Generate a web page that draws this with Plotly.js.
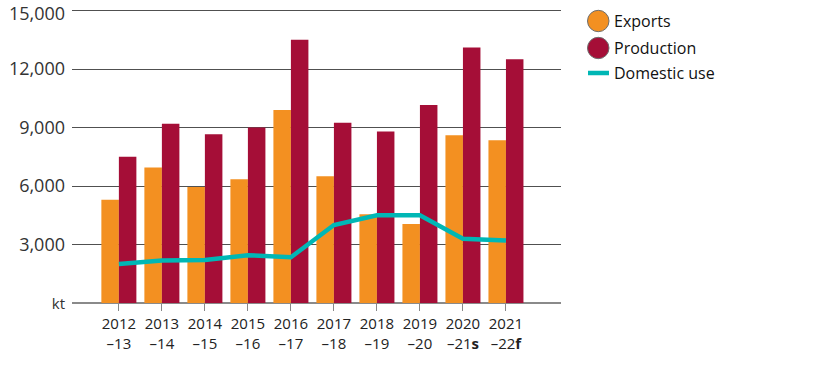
<!DOCTYPE html>
<html>
<head>
<meta charset="utf-8">
<script src="https://cdn.plot.ly/plotly-3.0.1.min.js"></script>
<style>html,body{margin:0;padding:0;background:#fff;}#chart{width:816px;height:376px;}</style>
</head>
<body>
<div id="chart"></div>
<script>
// ---- data ----
var categories = ["2012–13","2013–14","2014–15","2015–16","2016–17","2017–18","2018–19","2019–20","2020–21s","2021–22f"];
var tickLabels = ["2012<br>–13","2013<br>–14","2014<br>–15","2015<br>–16","2016<br>–17","2017<br>–18","2018<br>–19","2019<br>–20","2020<br>–21<b>s</b>","2021<br>–22<b>f</b>"];
var exportsVals = [5300, 6950, 5950, 6350, 9900, 6500, 4550, 4050, 8600, 8350];
var productionVals = [7500, 9200, 8650, 9000, 13500, 9250, 8800, 10150, 13100, 12500];
var domesticVals = [2000, 2180, 2200, 2450, 2350, 4000, 4500, 4500, 3300, 3200];
var seriesNames = ["Exports", "Production", "Domestic use"];
var yTickVals = [0, 3000, 6000, 9000, 12000, 15000];
var yTickText = ["<span style='font-size:15px'>kt</span>", "3,000", "6,000", "9,000", "12,000", ""];
var yTopLabel = "15,000";

// ---- style ----
var ORANGE = "#F39021", CRIMSON = "#A50E37", TEAL = "#00B7B5";
var W = 816, H = 376, ML = 72, MR = 255, MT = 9, MB = 73;
var PW = W - ML - MR, PH = H - MT - MB;
function px(x){ return (x - ML) / PW; }
function py(y){ return (H - MB - y) / PH; }

var traces = [
  {type:"bar", name:seriesNames[0], x:categories, y:exportsVals, marker:{color:ORANGE}, showlegend:false, hoverinfo:"y"},
  {type:"bar", name:seriesNames[1], x:categories, y:productionVals, marker:{color:CRIMSON}, showlegend:false, hoverinfo:"y"},
  {type:"scatter", mode:"lines", name:seriesNames[2], x:categories, y:domesticVals, line:{color:TEAL, width:4.5}, showlegend:false, hoverinfo:"y"}
];

var font = "'Open Sans', 'Noto Sans', sans-serif";
var legendY = [21, 48, 73];
var shapes = [
  {type:"circle", xref:"paper", yref:"paper", x0:px(587.5), x1:px(609), y0:py(legendY[0]+10.7), y1:py(legendY[0]-10.7), fillcolor:ORANGE, line:{color:"#6e6e6e", width:1}},
  {type:"circle", xref:"paper", yref:"paper", x0:px(587.5), x1:px(609), y0:py(legendY[1]+10.7), y1:py(legendY[1]-10.7), fillcolor:CRIMSON, line:{color:"#6e6e6e", width:1}},
  {type:"line", xref:"paper", yref:"paper", x0:px(588), x1:px(609), y0:py(legendY[2]), y1:py(legendY[2]), line:{color:TEAL, width:4.5}}
];
var annotations = seriesNames.map(function(n, i){
  return {xref:"paper", yref:"paper", x:px(612), y:py(legendY[i]), xanchor:"left", yanchor:"middle", text:n, showarrow:false, font:{family:font, size:16, color:"#111"}};
});
annotations.push({xref:"paper", yref:"y", x:0, y:yTickVals[yTickVals.length-1], xanchor:"right", yanchor:"middle",
  xshift:-6, yshift:-2.5, borderpad:0, text:yTopLabel, showarrow:false, font:{family:font, size:18, color:"#333"}});

var layout = {
  width:W, height:H,
  margin:{l:ML, r:MR, t:MT, b:MB, pad:0},
  paper_bgcolor:"#fff", plot_bgcolor:"#fff",
  font:{family:font, color:"#222"},
  barmode:"group", bargap:0.186, bargroupgap:0,
  showlegend:false,
  xaxis:{type:"category", range:[-1.09, 10.28], tickvals:categories, ticktext:tickLabels,
         ticks:"outside", ticklen:7, tickcolor:"#888", tickwidth:1,
         showline:false, showgrid:false, zeroline:false,
         tickfont:{family:font, size:15, color:"#222"}, fixedrange:true},
  yaxis:{range:[0, 15080], tickvals:yTickVals, ticktext:yTickText,
         showgrid:true, gridcolor:"#505050", gridwidth:1,
         zeroline:true, zerolinecolor:"#8a8a8a", zerolinewidth:1.2,
         ticks:"", ticklabelstandoff:6, ticklabeloverflow:"allow",
         tickfont:{family:font, size:18, color:"#333"}, fixedrange:true},
  shapes:shapes,
  annotations:annotations
};

Plotly.newPlot("chart", traces, layout, {displayModeBar:false, staticPlot:true});
</script>
</body>
</html>
